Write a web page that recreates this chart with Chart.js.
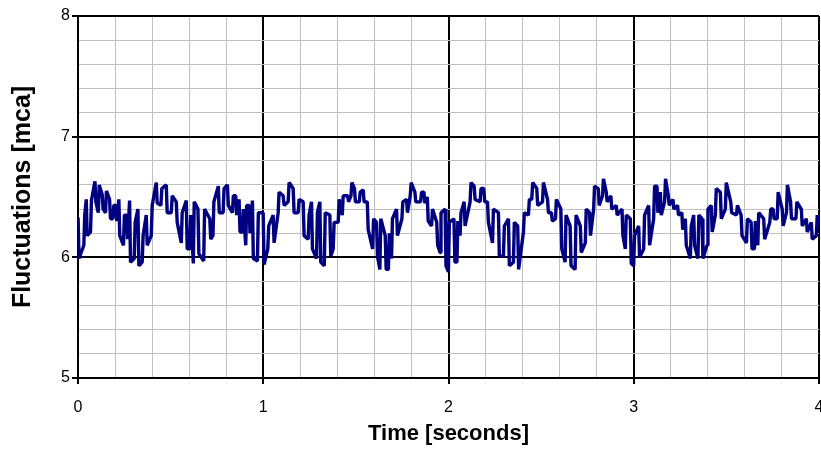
<!DOCTYPE html>
<html>
<head>
<meta charset="utf-8">
<script src="https://cdn.jsdelivr.net/npm/chart.js@4.4.1/dist/chart.umd.min.js"></script>
<style>
  html, body { margin: 0; padding: 0; background: #fff; }
  #wrap { width: 821px; height: 450px; }
</style>
</head>
<body>
<div id="wrap"><canvas id="chart" width="821" height="450"></canvas></div>
<script>
// Strokes: [time s, level before, level after] in mca, one array per second
const sec0 = [
  [0.003,6.33,5.99],[0.034,6.10,6.35],[0.047,6.48,6.18],[0.070,6.21,6.47],[0.094,6.63,6.46],[0.112,6.37,6.60],
  [0.133,6.52,6.40],[0.151,6.37,6.55],[0.173,6.48,6.32],[0.191,6.32,6.43],[0.207,6.43,6.30],[0.223,6.48,6.18],
  [0.248,6.10,6.35],[0.265,6.35,6.15],[0.281,6.47,5.96],[0.306,5.99,6.29],[0.326,6.40,5.93],[0.349,5.96,6.18],
  [0.371,6.35,6.10],[0.398,6.18,6.43],[0.425,6.62,6.45],[0.450,6.43,6.57],[0.479,6.60,6.37],[0.506,6.37,6.51],
  [0.533,6.46,6.29],[0.560,6.12,6.37],[0.587,6.47,6.07],[0.606,6.07,6.35],[0.625,5.95,6.46],[0.650,6.40,6.03],
  [0.681,5.97,6.40],[0.714,6.32,6.15],[0.731,6.18,6.46],[0.760,6.59,6.37],[0.786,6.37,6.57],[0.809,6.60,6.43],
  [0.836,6.37,6.51],[0.854,6.51,6.35],[0.872,6.48,6.21],[0.890,6.21,6.40],[0.908,6.10,6.43],[0.926,6.43,6.20],
  [0.944,6.47,5.99],[0.971,5.97,6.37]
];
const sec1 = [
  [1.002,6.37,5.94],[1.027,6.07,6.26],[1.056,6.35,6.12],[1.083,6.37,6.54],[1.110,6.51,6.43],[1.137,6.46,6.62],
  [1.164,6.57,6.37],[1.191,6.37,6.48],[1.218,6.46,6.18],[1.245,6.15,6.35],[1.263,6.46,6.07],[1.290,5.99,6.37],
  [1.308,6.46,5.96],[1.332,5.93,6.37],[1.362,6.35,6.01],[1.380,6.07,6.29],[1.407,6.29,6.48],[1.429,6.35,6.51],
  [1.458,6.51,6.46],[1.476,6.51,6.62],[1.495,6.57,6.46],[1.521,6.46,6.54],[1.542,6.56,6.46],[1.564,6.46,6.23],
  [1.593,6.07,6.32],[1.614,6.29,6.01],[1.632,5.90,6.32],[1.661,6.18,5.90],[1.678,5.90,6.20],[1.695,5.99,6.32],
  [1.722,6.40,6.18],[1.751,6.32,6.46],[1.776,6.48,6.37],[1.796,6.51,6.62],[1.821,6.54,6.46],[1.852,6.46,6.54],
  [1.870,6.54,6.45],[1.888,6.50,6.30],[1.911,6.26,6.40],[1.939,6.29,6.10],[1.957,6.04,6.37],[1.984,6.40,5.93]
];
const sec2 = [
  [2.002,5.88,6.29],[2.032,6.32,5.96],[2.048,5.96,6.30],[2.065,6.18,6.37],[2.087,6.46,6.26],[2.119,6.46,6.62],
  [2.141,6.59,6.48],[2.173,6.46,6.57],[2.193,6.57,6.46],[2.213,6.46,6.29],[2.240,6.12,6.40],[2.272,6.37,6.01],
  [2.299,6.01,6.26],[2.326,6.32,5.93],[2.353,5.96,6.29],[2.376,6.26,5.90],[2.407,6.21,6.37],[2.434,6.35,6.48],
  [2.452,6.48,6.62],[2.479,6.57,6.43],[2.510,6.46,6.62],[2.537,6.48,6.37],[2.558,6.37,6.30],[2.580,6.32,6.48],
  [2.609,6.40,6.07],[2.632,5.96,6.35],[2.659,6.26,5.93],[2.686,5.90,6.35],[2.714,6.26,6.04],[2.741,6.12,6.40],
  [2.764,6.37,6.18],[2.786,6.40,6.59],[2.811,6.57,6.43],[2.834,6.51,6.65],[2.854,6.54,6.46],[2.879,6.51,6.40],
  [2.908,6.43,6.35],[2.939,6.40,6.18],[2.957,6.07,6.35],[2.984,6.32,5.95]
];
const sec3 = [
  [3.002,5.93,6.18],[3.029,6.26,6.00],[3.056,6.07,6.35],[3.083,6.43,6.10],[3.110,6.32,6.59],[3.128,6.59,6.37],
  [3.146,6.54,6.35],[3.169,6.46,6.65],[3.189,6.51,6.43],[3.214,6.48,6.40],[3.239,6.43,6.35],[3.262,6.37,6.23],
  [3.281,6.32,6.10],[3.308,5.99,6.26],[3.326,6.35,6.10],[3.349,5.99,6.35],[3.371,6.32,5.99],[3.398,6.10,6.40],
  [3.421,6.43,6.21],[3.443,6.35,6.57],[3.470,6.54,6.32],[3.497,6.40,6.62],[3.526,6.46,6.37],[3.557,6.35,6.43],
  [3.582,6.35,6.18],[3.611,6.12,6.32],[3.636,6.29,6.07],[3.654,6.07,6.30],[3.672,6.10,6.37],[3.704,6.32,6.15],
  [3.737,6.29,6.40],[3.755,6.40,6.32],[3.777,6.32,6.54],[3.804,6.40,6.26],[3.827,6.37,6.60],[3.849,6.46,6.32],
  [3.878,6.32,6.46],[3.907,6.40,6.26],[3.934,6.32,6.21],[3.961,6.29,6.15],[3.988,6.18,6.35],[4.000,6.25,6.25]
];

// Axis labels (major ticks only) and titles
const xMajorLabels = ['0', '1', '2', '3', '4'];
const yMajorLabels = ['5', '6', '7', '8'];
const xTitle = 'Time [seconds]';
const yTitle = 'Fluctuations [mca]';

const FONT = '"Liberation Sans", Arial, Helvetica, sans-serif';
const STROKE_SPAN = 0.005; // seconds each jump takes on screen
const isMajor = v => Math.abs(v - Math.round(v)) < 1e-6;
const gridColor = ctx => (ctx.tick && isMajor(ctx.tick.value)) ? '#000000' : '#c0c0c0';
const gridWidth = ctx => (ctx.tick && isMajor(ctx.tick.value)) ? 2 : 1;
const tickColor = ctx => (ctx.tick && isMajor(ctx.tick.value)) ? '#000000' : 'rgba(0,0,0,0)';

const points = [...sec0, ...sec1, ...sec2, ...sec3]
    .flatMap(s => [{ x: s[0] - STROKE_SPAN / 2, y: s[1] }, { x: s[0] + STROKE_SPAN / 2, y: s[2] }]);

new Chart(document.getElementById('chart'), {
    type: 'line',
    data: {
        datasets: [{
            data: points,
            borderColor: '#000080',
            borderWidth: 3.4,
            borderJoinStyle: 'bevel',
            pointRadius: 0,
            tension: 0,
            fill: false
        }]
    },
    options: {
        responsive: false,
        animation: false,
        layout: { padding: { left: 0, right: 2, top: 16, bottom: 0 } },
        plugins: { legend: { display: false }, tooltip: { enabled: false } },
        scales: {
            x: {
                type: 'linear',
                min: 0,
                max: 4,
                ticks: {
                    stepSize: 0.2,
                    autoSkip: false,
                    maxRotation: 0,
                    padding: 14,
                    color: '#000',
                    font: { family: FONT, size: 16 },
                    callback: v => isMajor(v) ? xMajorLabels[Math.round(v)] : ''
                },
                grid: { color: gridColor, lineWidth: gridWidth, tickColor: tickColor, tickLength: 6, tickWidth: 2 },
                border: { color: '#000', width: 2 },
                title: {
                    display: true, text: xTitle, color: '#000',
                    font: { family: FONT, size: 22, weight: 'bold' },
                    padding: { top: 0, bottom: 3 }
                },
                afterFit: s => { s.height = 72; s.paddingLeft = 0; s.paddingRight = 0; }
            },
            y: {
                type: 'linear',
                min: 5,
                max: 8,
                ticks: {
                    stepSize: 0.2,
                    autoSkip: false,
                    padding: 2,
                    color: '#000',
                    font: { family: FONT, size: 16 },
                    callback: v => isMajor(v) ? yMajorLabels[Math.round(v) - 5] : ''
                },
                grid: { color: gridColor, lineWidth: gridWidth, tickColor: tickColor, tickLength: 6, tickWidth: 2 },
                border: { color: '#000', width: 2 },
                title: {
                    display: true, text: yTitle, color: '#000',
                    font: { family: FONT, size: 25, weight: 'bold' },
                    padding: { top: 8, bottom: 0 }
                },
                afterFit: s => { s.width = 78; s.paddingTop = 0; s.paddingBottom = 0; }
            }
        }
    }
});
</script>
</body>
</html>
